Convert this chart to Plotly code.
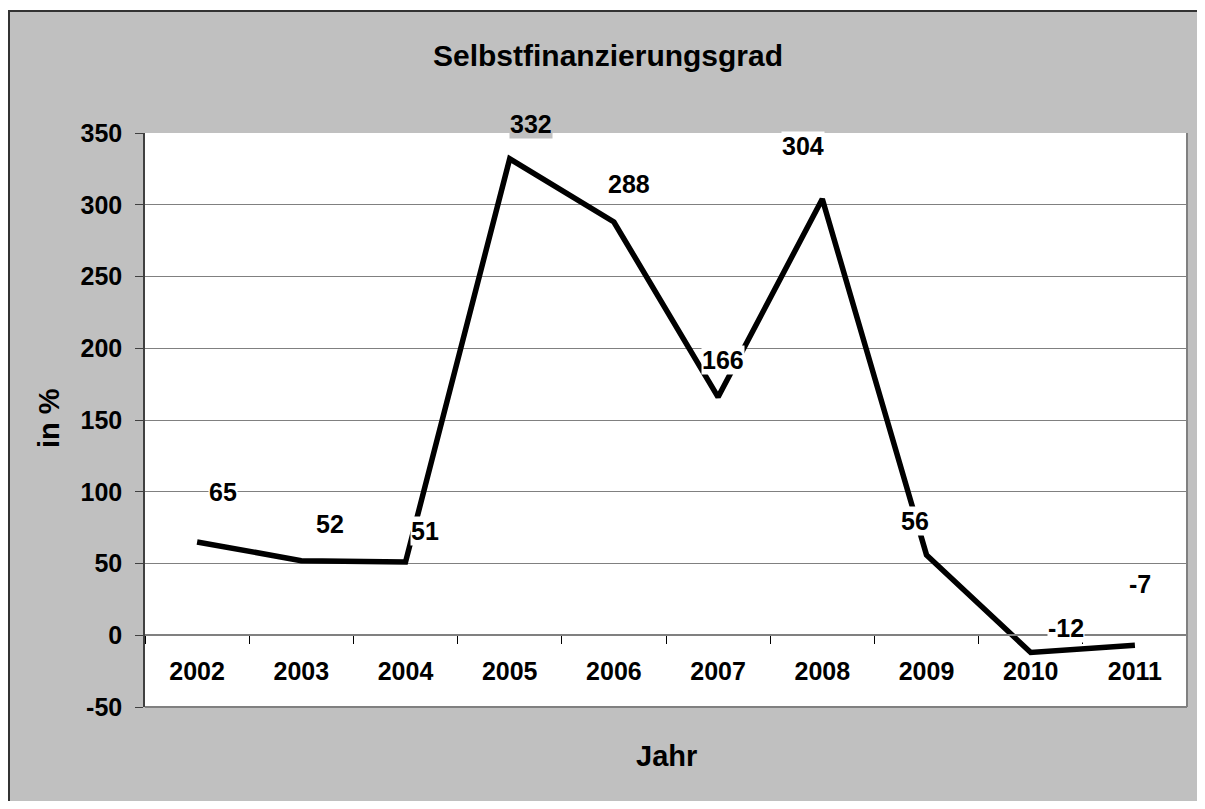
import plotly.graph_objects as go

# ---- data ----
years = ["2002", "2003", "2004", "2005", "2006", "2007", "2008", "2009", "2010", "2011"]
values = [65, 52, 51, 332, 288, 166, 304, 56, -12, -7]
y_ticks = [-50, 0, 50, 100, 150, 200, 250, 300, 350]
y_tick_text = ["-50", "0", "50", "100", "150", "200", "250", "300", "350"]

title_text = "Selbstfinanzierungsgrad"
x_title = "Jahr"
y_title = "in %"

# label offsets in pixels (right, up) relative to each point
label_dx = [26, 29, 19, 21, 15, 5, -19, -12, 35, 5]
label_dy = [50, 37, 31, 35, 38, 37, 53, 34, 24, 61]
label_bg = ["white", "white", "white", "#C0C0C0", "white", "white", "white", "white", "white", "white"]

# the page has a default 8px body margin; size the figure so nothing overflows
OFF = 8
W, H = 1205 - 2 * OFF, 809 - 2 * OFF
ML, MT = 145 - OFF, 133 - OFF
PW, PH = 1042, 574
MR = W - ML - PW
MB = H - MT - PH


def px(x):
    """screen x pixel -> paper coordinate"""
    return (x - OFF - ML) / PW


def py(y):
    """screen y pixel -> paper coordinate"""
    return (MT + PH - (y - OFF)) / PH


FONT = "Arial, Liberation Sans, sans-serif"
GRAY_BG = "#C0C0C0"
GRID = "#808080"

fig = go.Figure()
fig.add_trace(go.Scatter(
    x=years, y=values, mode="lines",
    line=dict(color="black", width=5.5),
    hoverinfo="skip", showlegend=False,
))

annotations = []
for i, (v, dx, dy, bg) in enumerate(zip(values, label_dx, label_dy, label_bg)):
    annotations.append(dict(
        x=i, y=v, xref="x", yref="y", text=str(v), showarrow=False,
        xshift=dx, yshift=dy, bgcolor=bg, borderpad=0,
        font=dict(family=FONT, size=25, color="black", weight="bold"),
    ))

annotations.append(dict(
    x=px(607.5), y=py(55), xref="paper", yref="paper", text=title_text,
    showarrow=False, xanchor="center", yanchor="middle",
    font=dict(family=FONT, size=30, color="black", weight="bold"),
))
annotations.append(dict(
    x=px(666.5), y=py(756), xref="paper", yref="paper", text=x_title,
    showarrow=False, xanchor="center", yanchor="middle",
    font=dict(family=FONT, size=29, color="black", weight="bold"),
))
annotations.append(dict(
    x=px(49), y=py(418), xref="paper", yref="paper", text=y_title,
    showarrow=False, xanchor="center", yanchor="middle", textangle=-90,
    font=dict(family=FONT, size=29, color="black", weight="bold"),
))

shapes = [
    # white strip above the gray frame
    dict(type="rect", xref="paper", yref="paper", x0=px(0), x1=px(1205 + 20), y0=py(0), y1=py(10),
         fillcolor="white", line=dict(width=0), layer="below"),
    # dark frame border (top, left)
    dict(type="line", xref="paper", yref="paper", x0=px(8), x1=px(1205 + 20), y0=py(11), y1=py(11),
         line=dict(color="#333333", width=2)),
    dict(type="line", xref="paper", yref="paper", x0=px(9), x1=px(9), y0=py(10), y1=py(809 + 20),
         line=dict(color="#333333", width=2)),
    # plot-area border (right, bottom)
    dict(type="line", xref="x domain", yref="y domain", x0=1, x1=1, y0=0, y1=1,
         line=dict(color=GRID, width=2)),
    dict(type="line", xref="x domain", yref="y domain", x0=0, x1=1, y0=0, y1=0,
         line=dict(color=GRID, width=2)),
]

zero_pos = (0 - y_ticks[0]) / (y_ticks[-1] - y_ticks[0])

fig.update_layout(
    width=W, height=H,
    margin=dict(l=ML, r=MR, t=MT, b=MB, autoexpand=False),
    paper_bgcolor=GRAY_BG, plot_bgcolor="white",
    showlegend=False,
    annotations=annotations,
    shapes=shapes,
    xaxis=dict(
        type="category", categoryorder="array", categoryarray=years,
        range=[-0.5, len(years) - 0.5],
        anchor="free", position=zero_pos,
        showline=True, linecolor=GRID, linewidth=1.5,
        showgrid=False, zeroline=False,
        ticks="outside", tickson="boundaries", ticklen=8, tickwidth=1, tickcolor="black",
        ticklabelstandoff=14,
        tickfont=dict(family=FONT, size=25, color="black", weight="bold"),
    ),
    yaxis=dict(
        range=[y_ticks[0], y_ticks[-1]],
        tickvals=y_ticks, ticktext=y_tick_text,
        showgrid=True, gridcolor=GRID, gridwidth=1,
        zeroline=False,
        showline=True, linecolor="#404040", linewidth=1.5,
        ticks="outside", ticklen=8, tickwidth=1, tickcolor="#404040",
        ticklabelstandoff=8,
        tickfont=dict(family=FONT, size=25, color="black", weight="bold"),
    ),
)

fig.write_html("out.html", config={"displayModeBar": False})
